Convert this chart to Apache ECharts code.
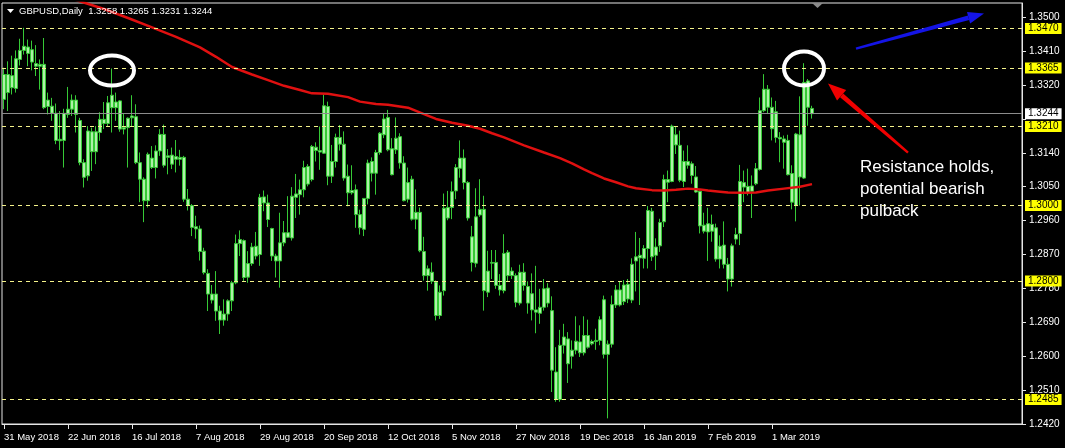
<!DOCTYPE html>
<html>
<head>
<meta charset="utf-8">
<style>
html,body{margin:0;padding:0;background:#000;}
#c{width:1065px;height:448px;}
</style>
<script src="https://cdn.jsdelivr.net/npm/echarts@6/dist/echarts.min.js"></script>
</head>
<body>
<div id="c"></div>
<script>
// ---------------- DATA ----------------
var title = 'GBPUSD,Daily  1.3258 1.3265 1.3231 1.3244';
// daily candles [open, close, low, high], 31 May 2018 ... 18 Mar 2019
var candles = [
[1.3282,1.3348,1.3256,1.3366],[1.3348,1.3300,1.3251,1.3383],[1.3313,1.3345,1.3295,1.3398],[1.3311,1.3390,1.3300,1.3412],
[1.3388,1.3412,1.3372,1.3443],[1.3412,1.3423,1.3401,1.3472],[1.3421,1.3404,1.3370,1.3441],[1.3414,1.3381,1.3359,1.3438],
[1.3377,1.3370,1.3344,1.3426],[1.3370,1.3375,1.3308,1.3388],[1.3375,1.3260,1.3256,1.3445],[1.3263,1.3280,1.3242,1.3300],
[1.3264,1.3245,1.3225,1.3286],[1.3245,1.3173,1.3163,1.3271],[1.3172,1.3176,1.3147,1.3251],[1.3173,1.3245,1.3101,1.3257],
[1.3242,1.3256,1.3233,1.3315],[1.3256,1.3280,1.3238,1.3295],[1.3280,1.3242,1.3194,1.3293],[1.3226,1.3114,1.3107,1.3233],
[1.3114,1.3075,1.3048,1.3123],[1.3079,1.3198,1.3066,1.3211],[1.3196,1.3143,1.3092,1.3207],[1.3143,1.3196,1.3110,1.3211],
[1.3194,1.3229,1.3172,1.3248],[1.3229,1.3218,1.3203,1.3275],[1.3218,1.3273,1.3211,1.3291],[1.3260,1.3293,1.3194,1.3364],
[1.3275,1.3260,1.3225,1.3300],[1.3278,1.3203,1.3196,1.3280],[1.3203,1.3207,1.3189,1.3245],[1.3207,1.3232,1.3101,1.3234],
[1.3233,1.3238,1.3211,1.3293],[1.3236,1.3114,1.3110,1.3269],[1.3114,1.3070,1.3009,1.3141],[1.3070,1.3013,1.2956,1.3075],
[1.3013,1.3136,1.2995,1.3141],[1.3126,1.3101,1.3097,1.3158],[1.3101,1.3145,1.3072,1.3160],[1.3145,1.3189,1.3132,1.3203],
[1.3189,1.3107,1.3101,1.3215],[1.3128,1.3132,1.3083,1.3150],[1.3110,1.3134,1.3097,1.3154],[1.3130,1.3123,1.3088,1.3174],
[1.3123,1.3128,1.3106,1.3148],[1.3128,1.3017,1.3010,1.3132],[1.3017,1.3000,1.2987,1.3044],[1.3000,1.2942,1.2919,1.3004],
[1.2944,1.2938,1.2912,1.2973],[1.2938,1.2878,1.2854,1.2947],[1.2879,1.2822,1.2817,1.2888],[1.2820,1.2765,1.2720,1.2831],
[1.2765,1.2749,1.2740,1.2789],[1.2765,1.2720,1.2694,1.2826],[1.2720,1.2696,1.2659,1.2734],[1.2696,1.2712,1.2681,1.2751],
[1.2712,1.2747,1.2694,1.2751],[1.2747,1.2795,1.2720,1.2800],[1.2795,1.2899,1.2791,1.2923],[1.2899,1.2910,1.2866,1.2934],
[1.2907,1.2809,1.2800,1.2910],[1.2810,1.2846,1.2795,1.2879],[1.2846,1.2890,1.2840,1.2901],[1.2892,1.2866,1.2857,1.2930],
[1.2870,1.3022,1.2840,1.3031],[1.3023,1.3007,1.2985,1.3040],[1.3007,1.2963,1.2943,1.3029],[1.2939,1.2866,1.2853,1.2941],
[1.2866,1.2853,1.2809,1.2872],[1.2853,1.2901,1.2782,1.2981],[1.2901,1.2928,1.2892,1.2959],[1.2928,1.2916,1.2914,1.3025],
[1.2914,1.3025,1.2907,1.3049],[1.3022,1.3031,1.2967,1.3084],[1.3029,1.3042,1.2976,1.3069],[1.3042,1.3101,1.3022,1.3119],
[1.3104,1.3057,1.3051,1.3110],[1.3069,1.3157,1.3064,1.3161],[1.3155,1.3146,1.3117,1.3168],[1.3146,1.3142,1.3095,1.3210],
[1.3139,1.3265,1.3137,1.3295],[1.3263,1.3078,1.3054,1.3276],[1.3078,1.3117,1.3060,1.3161],[1.3117,1.3181,1.3101,1.3191],
[1.3181,1.3163,1.3146,1.3214],[1.3163,1.3073,1.3066,1.3197],[1.3078,1.3034,1.2998,1.3109],[1.3034,1.3040,1.3029,1.3107],
[1.3042,1.2976,1.2941,1.3056],[1.2976,1.2941,1.2923,1.2989],[1.2937,1.3019,1.2919,1.3020],[1.3019,1.3113,1.3003,1.3122],
[1.3117,1.3086,1.3064,1.3128],[1.3086,1.3141,1.3029,1.3148],[1.3141,1.3192,1.3135,1.3195],[1.3188,1.3230,1.3179,1.3243],
[1.3234,1.3148,1.3144,1.3254],[1.3151,1.3082,1.3080,1.3179],[1.3148,1.3179,1.3137,1.3234],[1.3183,1.3113,1.3098,1.3192],
[1.3113,1.3013,1.3011,1.3131],[1.3017,1.3061,1.3008,1.3101],[1.3070,1.2964,1.2960,1.3079],[1.2964,1.2982,1.2937,1.3043],
[1.2982,1.2880,1.2876,1.2995],[1.2878,1.2814,1.2801,1.2917],[1.2814,1.2832,1.2774,1.2841],[1.2823,1.2799,1.2792,1.2849],
[1.2797,1.2708,1.2695,1.2801],[1.2708,1.2770,1.2699,1.2788],[1.2774,1.2993,1.2761,1.3032],[1.2995,1.2967,1.2961,1.3039],
[1.2995,1.3037,1.2964,1.3064],[1.3039,1.3101,1.3017,1.3110],[1.3099,1.3126,1.3074,1.3173],[1.3126,1.3061,1.3043,1.3149],
[1.3061,1.2967,1.2960,1.3065],[1.2917,1.2849,1.2825,1.2946],[1.2847,1.2970,1.2836,1.3046],[1.2975,1.2990,1.2970,1.3070],
[1.2990,1.2774,1.2721,1.3026],[1.2770,1.2826,1.2757,1.2880],[1.2847,1.2849,1.2805,1.2882],[1.2849,1.2788,1.2779,1.2882],
[1.2788,1.2776,1.2761,1.2818],[1.2774,1.2873,1.2767,1.2924],[1.2876,1.2814,1.2797,1.2882],[1.2814,1.2826,1.2805,1.2836],
[1.2814,1.2743,1.2730,1.2820],[1.2741,1.2823,1.2735,1.2843],[1.2823,1.2788,1.2774,1.2847],[1.2785,1.2741,1.2713,1.2799],
[1.2766,1.2723,1.2695,1.2820],[1.2723,1.2717,1.2661,1.2840],[1.2714,1.2730,1.2686,1.2779],[1.2730,1.2779,1.2721,1.2805],
[1.2781,1.2741,1.2730,1.2794],[1.2721,1.2563,1.2505,1.2759],[1.2558,1.2485,1.2479,1.2624],[1.2485,1.2629,1.2479,1.2670],
[1.2629,1.2651,1.2607,1.2686],[1.2646,1.2580,1.2529,1.2664],[1.2600,1.2616,1.2567,1.2642],[1.2616,1.2640,1.2605,1.2706],
[1.2638,1.2609,1.2598,1.2682],[1.2609,1.2655,1.2602,1.2706],[1.2655,1.2624,1.2620,1.2697],[1.2633,1.2639,1.2629,1.2644],
[1.2639,1.2642,1.2617,1.2673],[1.2642,1.2697,1.2629,1.2706],[1.2750,1.2605,1.2594,1.2761],[1.2605,1.2632,1.2435,1.2642],
[1.2632,1.2737,1.2623,1.2761],[1.2736,1.2776,1.2728,1.2789],[1.2776,1.2736,1.2732,1.2798],[1.2745,1.2789,1.2736,1.2802],
[1.2791,1.2752,1.2741,1.2805],[1.2749,1.2844,1.2741,1.2860],[1.2853,1.2864,1.2772,1.2930],[1.2868,1.2861,1.2736,1.2914],
[1.2860,1.2886,1.2833,1.2895],[1.2886,1.2987,1.2833,1.2999],[1.2985,1.2864,1.2853,1.2994],[1.2868,1.2890,1.2829,1.2913],
[1.2893,1.2955,1.2877,1.2965],[1.2957,1.3069,1.2943,1.3082],[1.3069,1.3062,1.3009,1.3093],[1.3064,1.3211,1.3062,1.3215],
[1.3188,1.3161,1.3137,1.3211],[1.3160,1.3067,1.3062,1.3199],[1.3064,1.3117,1.3049,1.3146],[1.3117,1.3107,1.3098,1.3160],
[1.3111,1.3080,1.3058,1.3117],[1.3076,1.3036,1.3034,1.3105],[1.3038,1.2946,1.2926,1.3040],[1.2932,1.2948,1.2926,1.2981],
[1.2952,1.2930,1.2853,1.2994],[1.2932,1.2950,1.2904,1.2976],[1.2941,1.2858,1.2851,1.2952],[1.2858,1.2892,1.2833,1.2921],
[1.2895,1.2844,1.2833,1.2958],[1.2844,1.2805,1.2772,1.2861],[1.2805,1.2893,1.2785,1.2899],[1.2911,1.2923,1.2897,1.2941],
[1.2926,1.3064,1.2895,1.3108],[1.3061,1.3049,1.3009,1.3093],[1.3034,1.3051,1.3027,1.3098],[1.3052,1.3038,1.2967,1.3080],
[1.3058,1.3098,1.3054,1.3113],[1.3096,1.3252,1.3093,1.3287],[1.3252,1.3309,1.3248,1.3349],[1.3309,1.3261,1.3243,1.3320],
[1.3261,1.3204,1.3173,1.3287],[1.3181,1.3249,1.3167,1.3278],[1.3181,1.3177,1.3115,1.3195],[1.3177,1.3168,1.3098,1.3186],
[1.3173,1.3082,1.3080,1.3188],[1.3085,1.3009,1.2990,1.3107],[1.3000,1.3190,1.2958,1.3193],[1.3188,1.3076,1.3000,1.3290],
[1.3073,1.3327,1.3071,1.3378],[1.3331,1.3261,1.3212,1.3336],[1.3258,1.3244,1.3231,1.3265]
];
// moving average (red), [bar index, value]
var maPoints = [
[10,1.3575],[18,1.3546],[25,1.3522],[31,1.3498],[37,1.3473],[43,1.3448],[49,1.3420],[53,1.3395],
[57,1.3368],[62,1.3348],[66,1.3333],[70,1.3318],[74,1.3307],[77,1.3298],[81,1.3297],[86,1.3288],
[89,1.3276],[93,1.3270],[96,1.3268],[101,1.3260],[105,1.3243],[108,1.3230],[112,1.3220],[116,1.3212],
[119,1.3204],[122,1.3192],[125,1.3181],[130,1.3160],[135,1.3141],[139,1.3126],[142,1.3112],[145,1.3096],
[147,1.3086],[150,1.3072],[153,1.3062],[156,1.3051],[158,1.3046],[162,1.3041],[165,1.3040],[168,1.3042],
[171,1.3045],[174,1.3043],[176,1.3040],[179,1.3037],[181,1.3035],[185,1.3034],[188,1.3035],[191,1.3040],
[195,1.3045],[199,1.3050],[202,1.3057]
];
var levels = [1.3470, 1.3365, 1.3210, 1.3000, 1.2800, 1.2485];   // yellow horizontal levels
var lastPrice = 1.3244;
var dateLabels = ['31 May 2018','22 Jun 2018','16 Jul 2018','7 Aug 2018','29 Aug 2018','20 Sep 2018',
  '12 Oct 2018','5 Nov 2018','27 Nov 2018','19 Dec 2018','16 Jan 2019','7 Feb 2019','1 Mar 2019'];
var labelEvery = 16;       // bars between date labels
var totalSlots = 255;      // chart width in bar slots (right shift)
var yMin = 1.2420, yMax = 1.35379, yStep = 0.0090;
var noteLines = ['Resistance holds,', 'potential bearish', 'pulback'];

// annotations in data coordinates [bar, price]
var circles = [{c:[27.25,1.33585]}, {c:[200.25,1.33638]}];
var blueArrow = {from:[212.5,1.34169], to:[245.25,1.35098]};
var redArrow  = {from:[225.5,1.31407], to:[206,1.33240]};
var noteAnchor = [213.75, 1.31301];

// ---------------- CHART ----------------
var cats = [];
for (var i = 0; i < totalSlots; i++) cats.push(String(i));

var chart = echarts.init(document.getElementById('c'), null, {renderer:'canvas'});
var FONT = '"Liberation Sans", Arial, sans-serif';

var mlData = levels.map(function(v){
  return {yAxis:v, lineStyle:{color:'#f4f28a', type:[4,4], width:1},
    label:{backgroundColor:'#ffff00', color:'#000'}};
});
mlData.push({yAxis:lastPrice, lineStyle:{color:'#8c8c8c', type:'solid', width:1},
  label:{backgroundColor:'#ffffff', color:'#000'}});

chart.setOption({
  animation:false,
  backgroundColor:'#000000',
  grid:{left:2, right:43, top:3, bottom:24, show:true, borderColor:'#e6e6e6', borderWidth:1, backgroundColor:'#000'},
  xAxis:{
    type:'category', data:cats, boundaryGap:true,
    axisLine:{show:true, lineStyle:{color:'#e6e6e6'}},
    axisTick:{show:true, alignWithLabel:true, length:5, lineStyle:{color:'#e6e6e6'},
      interval:function(idx){ return idx % labelEvery === 0 && idx/labelEvery < dateLabels.length; }},
    axisLabel:{show:true, color:'#ffffff', fontFamily:FONT, fontSize:9.5, margin:8, align:'left',
      interval:function(idx){ return idx % labelEvery === 0 && idx/labelEvery < dateLabels.length; },
      formatter:function(v, idx){ var k = idx/labelEvery; return dateLabels[k] || ''; }},
    splitLine:{show:false}
  },
  yAxis:{
    type:'value', position:'right', min:yMin, max:yMax, interval:yStep, scale:true,
    axisLine:{show:true, lineStyle:{color:'#e6e6e6'}},
    axisTick:{show:true, length:4, lineStyle:{color:'#e6e6e6'}},
    splitLine:{show:false},
    axisLabel:{color:'#ffffff', fontFamily:FONT, fontSize:10, margin:7, showMaxLabel:false,
      formatter:function(v){
        var k = Math.round((v - yMin)/yStep);
        if (Math.abs(v - (yMin + k*yStep)) > 1e-7) return '';
        if (Math.abs(v - 1.3230) < 1e-6) return '';
        return v.toFixed(4);
      }}
  },
  series:[
    {
      type:'candlestick', data:candles, barWidth:3,
      itemStyle:{color:'#aef0a8', color0:'#aef0a8', borderColor:'#36c936', borderColor0:'#36c936', borderWidth:1},
      markLine:{silent:true, symbol:['none','none'], animation:false, precision:4,
        label:{show:true, position:'end', distance:3, fontFamily:FONT, fontSize:10, padding:[1,3,0,3],
          formatter:function(p){ return Number(p.value).toFixed(4); }},
        data:mlData}
    },
    {
      type:'line', data:maPoints, showSymbol:false, symbol:'none', clip:true, z:3,
      lineStyle:{color:'#e01010', width:2.5}
    }
  ]
});

function px(p){ return chart.convertToPixel({xAxisIndex:0, yAxisIndex:0}, p); }

function arrow(a, color, lw, headLen, headW){
  var s = px(a.from), e = px(a.to);
  var dx = e[0]-s[0], dy = e[1]-s[1], L = Math.sqrt(dx*dx+dy*dy);
  var ux = dx/L, uy = dy/L, nx = -uy, ny = ux;
  var bx = e[0]-ux*headLen, by = e[1]-uy*headLen;
  return [
    {type:'polygon', z:20, shape:{points:[
      [s[0]+nx*lw*0.3, s[1]+ny*lw*0.3],[bx+nx*lw*0.6, by+ny*lw*0.6],
      [bx-nx*lw*0.6, by-ny*lw*0.6],[s[0]-nx*lw*0.3, s[1]-ny*lw*0.3]]}, style:{fill:color}},
    {type:'polygon', z:20, shape:{points:[[e[0],e[1]],[bx+nx*headW/2, by+ny*headW/2],[bx-nx*headW/2, by-ny*headW/2]]},
      style:{fill:color}}
  ];
}

var g = [];
// title
g.push({type:'polygon', z:30, shape:{points:[[7,9],[14,9],[10.5,13]]}, style:{fill:'#ffffff'}});
g.push({type:'text', z:30, left:19, top:6, style:{text:title, fill:'#ffffff', font:'9.5px ' + FONT}});
// chart shift marker
g.push({type:'polygon', z:30, shape:{points:[[812,3],[823,3],[817.5,8]]}, style:{fill:'#8a8a8a'}});
// circles
circles.forEach(function(c, k){
  var p = px(c.c);
  g.push({type:'ellipse', z:25, shape:{cx:p[0], cy:p[1], rx:(k===0?22:20), ry:(k===0?15:17)},
    style:{fill:null, stroke:'#ffffff', lineWidth:4}});
});
g = g.concat(arrow(blueArrow, '#1414e6', 4, 16, 12));
g = g.concat(arrow(redArrow, '#f00000', 4, 18, 14));
var na = px(noteAnchor);
g.push({type:'text', z:30, left:na[0], top:na[1],
  style:{text:noteLines.join('\n'), fill:'#ffffff', font:'17px ' + FONT, lineHeight:22}});
chart.setOption({graphic:g});
</script>
</body>
</html>
